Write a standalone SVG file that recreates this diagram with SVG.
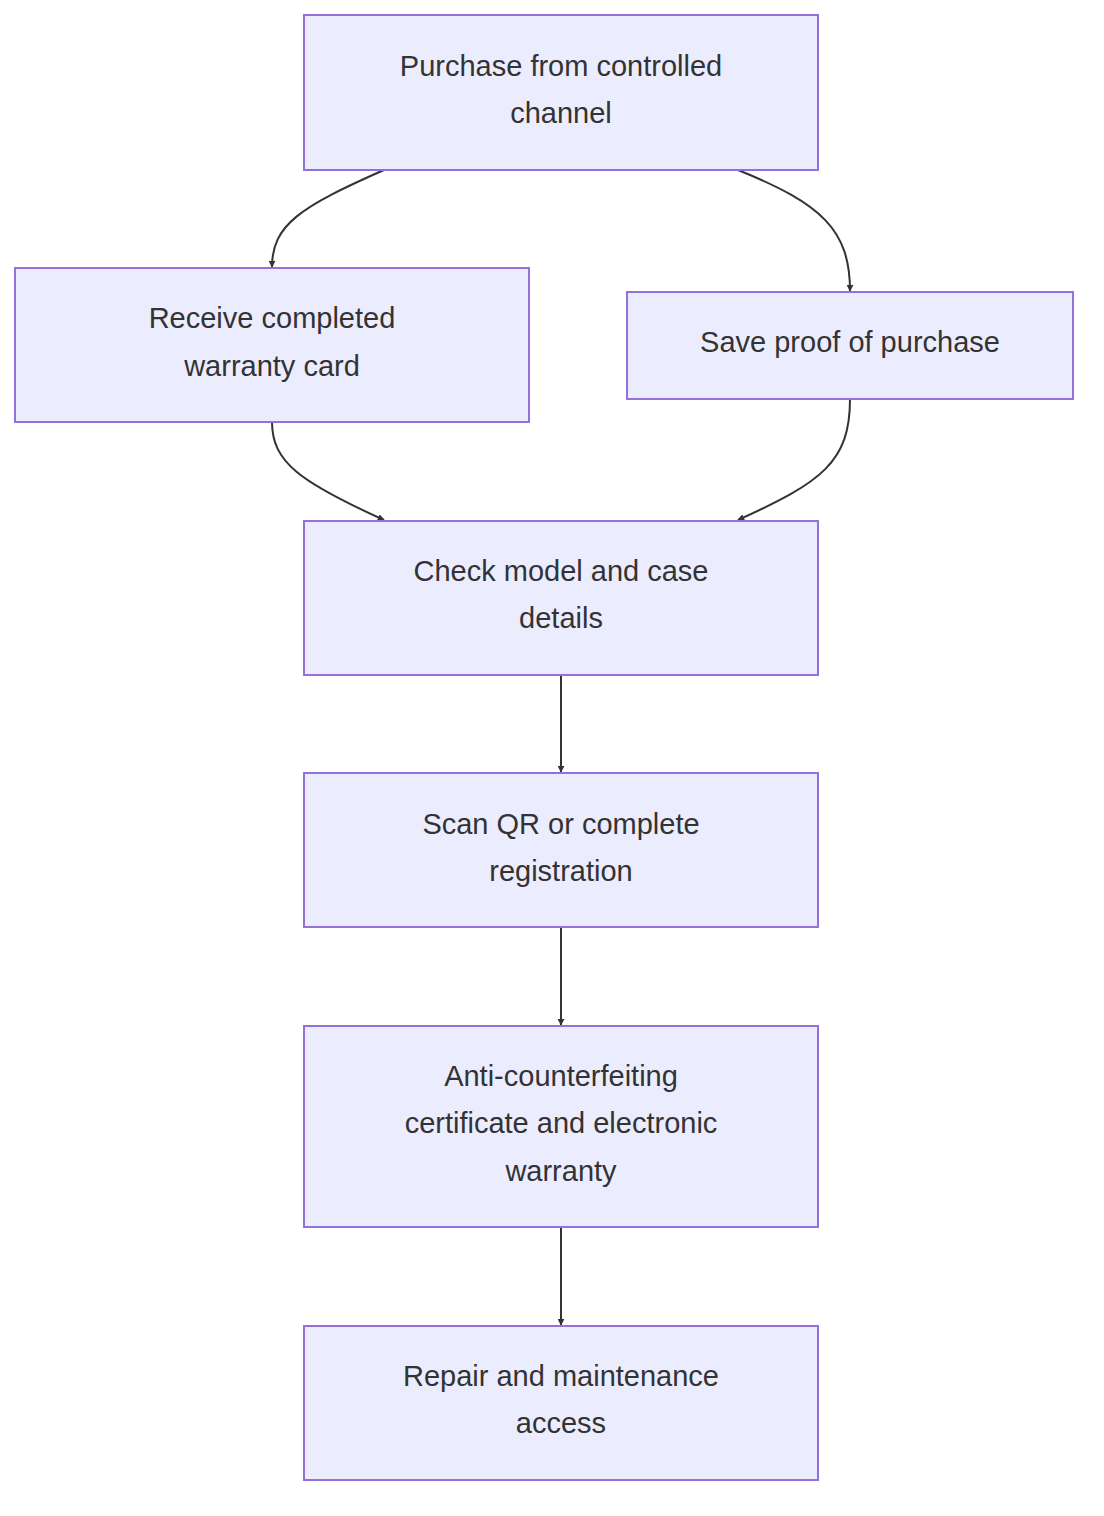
<svg xmlns="http://www.w3.org/2000/svg" width="1104" height="1516" viewBox="0 0 1104 1516">
<style>
.n rect{fill:#ECECFF;stroke:#9370DB;stroke-width:2}
.n text{font-family:"Liberation Sans",Arial,sans-serif;font-size:29px;fill:#333;text-anchor:middle}
.e path{fill:none;stroke:#333;stroke-width:2;marker-end:url(#a)}
</style>
<defs><marker id="a" viewBox="0 0 10 10" refX="9" refY="5" markerWidth="7" markerHeight="7" orient="auto" markerUnits="userSpaceOnUse"><path d="M0,0L10,5L0,10z" fill="#333" transform="scale(1)"/></marker></defs>
<rect width="1104" height="1516" fill="#fff"/>
<g class="e">
<path d="M384,170 C300,207 272,225 272,267"/>
<path d="M738,170 C822,204 850,230 850,291"/>
<path d="M272,422 C272,462 300,482 384,520"/>
<path d="M850,399 C850,462 822,482 738,520"/>
<path d="M561,675 L561,772"/>
<path d="M561,927 L561,1025"/>
<path d="M561,1227 L561,1325"/>
</g>
<g id="A" class="n"><rect x="304" y="15" width="514" height="155"/><text x="561" y="76">Purchase from controlled</text><text x="561" y="123">channel</text></g>
<g id="B" class="n"><rect x="15" y="268" width="514" height="154"/><text x="272" y="328">Receive completed</text><text x="272" y="376">warranty card</text></g>
<g id="C" class="n"><rect x="627" y="292" width="446" height="107"/><text x="850" y="352">Save proof of purchase</text></g>
<g id="D" class="n"><rect x="304" y="521" width="514" height="154"/><text x="561" y="581">Check model and case</text><text x="561" y="628">details</text></g>
<g id="E" class="n"><rect x="304" y="773" width="514" height="154"/><text x="561" y="834">Scan QR or complete</text><text x="561" y="881">registration</text></g>
<g id="F" class="n"><rect x="304" y="1026" width="514" height="201"/><text x="561" y="1086">Anti-counterfeiting</text><text x="561" y="1133">certificate and electronic</text><text x="561" y="1181">warranty</text></g>
<g id="G" class="n"><rect x="304" y="1326" width="514" height="154"/><text x="561" y="1386">Repair and maintenance</text><text x="561" y="1433">access</text></g>
</svg>
